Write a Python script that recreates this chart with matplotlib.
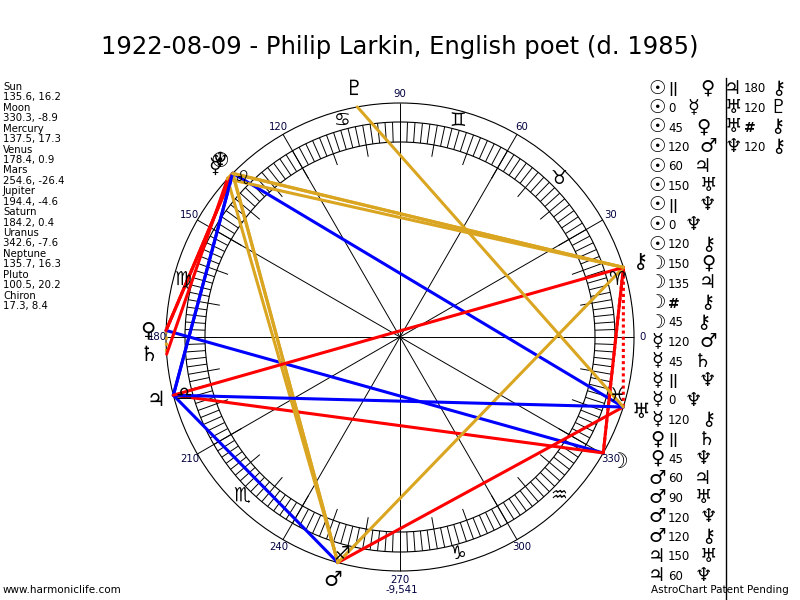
import numpy as np
import matplotlib
matplotlib.use("Agg")
import matplotlib.pyplot as plt
from matplotlib.patches import Circle
from matplotlib.collections import LineCollection

plt.rcParams['font.family'] = ['DejaVu Sans']

# chart data
title = "1922-08-09 - Philip Larkin, English poet (d. 1985)"
names = ['Sun', 'Moon', 'Mercury', 'Venus', 'Mars', 'Jupiter', 'Saturn',
         'Uranus', 'Neptune', 'Pluto', 'Chiron']
glyphs = ['☉', '☽', '☿', '♀', '♂', '♃', '♄', '♅', '♆', '♇', '⚷']
lon = [135.6, 330.3, 137.5, 178.4, 254.6, 194.4, 184.2, 342.6, 135.7, 100.5, 17.3]
decl = [16.2, -8.9, 17.3, 0.9, -26.4, -4.6, 0.4, -7.6, 16.3, 20.2, 8.4]
signs = ['♈', '♉', '♊', '♋', '♌', '♍', '♎', '♏', '♐', '♑', '♒', '♓']

asp_p1 = ['Sun', 'Sun', 'Sun', 'Sun', 'Sun', 'Sun', 'Sun', 'Sun', 'Sun',
          'Moon', 'Moon', 'Moon', 'Moon',
          'Mercury', 'Mercury', 'Mercury', 'Mercury', 'Mercury',
          'Venus', 'Venus', 'Mars', 'Mars', 'Mars', 'Mars', 'Jupiter', 'Jupiter',
          'Jupiter', 'Uranus', 'Uranus', 'Neptune']
asp_kind = ['P', '0', '45', '120', '60', '150', 'P', '0', '120',
            '150', '135', 'CP', '45',
            '120', '45', 'P', '0', '120',
            'P', '45', '60', '90', '120', '120', '150', '60',
            '180', '120', 'CP', '120']
asp_p2 = ['Venus', 'Mercury', 'Venus', 'Mars', 'Jupiter', 'Uranus', 'Neptune', 'Neptune', 'Chiron',
          'Venus', 'Jupiter', 'Chiron', 'Chiron',
          'Mars', 'Saturn', 'Neptune', 'Neptune', 'Chiron',
          'Saturn', 'Neptune', 'Jupiter', 'Uranus', 'Neptune', 'Chiron', 'Uranus', 'Neptune',
          'Chiron', 'Pluto', 'Chiron', 'Chiron']
deg_labels = list(range(0, 360, 30))
foot_value = "-9,541"

RED, BLUE, GOLD = '#ff0000', '#0000ff', '#daa520'
kind_color = {'0': GOLD, '120': GOLD, 'P': GOLD, '60': BLUE, '150': BLUE,
              '45': RED, '90': RED, '135': RED, '180': RED, 'CP': RED}
kind_text = {'P': '||', 'CP': '#'}

cx, cy = 400, 337
R_OUT, R_BAND1, R_BAND0, R_LONG = 234, 215, 195, 183


def xy(d, r):
    a = np.radians(d)
    return cx + r * np.cos(a), cy - r * np.sin(a)


fig = plt.figure(figsize=(8, 6), dpi=100)
ax = fig.add_axes([0, 0, 1, 1])
ax.set_xlim(0, 800)
ax.set_ylim(600, 0)
ax.axis('off')

# wheel
for r in (R_OUT, R_BAND1, R_BAND0):
    ax.add_patch(Circle((cx, cy), r, fill=False, lw=0.8, color='black'))

segs = []
for d in np.arange(0, 360, 2):
    segs.append([xy(d, R_BAND0), xy(d, R_BAND1)])
for d in np.arange(0, 360, 10):
    segs.append([xy(d, R_LONG), xy(d, R_BAND0)])
for d in deg_labels:
    segs.append([(cx, cy), xy(d, R_OUT)])
ax.add_collection(LineCollection(segs, colors='black', linewidths=0.7))

for d in deg_labels:
    x, y = xy(d, 243)
    ax.text(x, y, str(d), ha='center', va='center', fontsize=7.3, color='#000040')
ax.text(cx + 2, 590, foot_value, ha='center', va='center', fontsize=7.3, color='#000040')

for i, s in enumerate(signs):
    x, y = xy(i * 30 + 15, 224)
    ax.text(x, y, s, ha='center', va='center', fontsize=13.5, color='black')

# aspect lines: parallels first, then others
order = sorted(range(len(asp_kind)), key=lambda k: asp_kind[k] not in ('P', 'CP'))
for k in order:
    a = lon[names.index(asp_p1[k])]
    b = lon[names.index(asp_p2[k])]
    x1, y1 = xy(a, R_OUT)
    x2, y2 = xy(b, R_OUT)
    ls = (0, (1, 1)) if asp_kind[k] in ('P', 'CP') else '-'
    ax.plot([x1, x2], [y1, y2], color=kind_color[asp_kind[k]], lw=2.2, ls=ls,
            solid_capstyle='round')

for g, d in zip(glyphs, lon):
    x, y = xy(d, 252)
    ax.text(x, y, g, ha='center', va='center', fontsize=15, color='black')

# title and footers
ax.text(400, 47, title, ha='center', va='center', fontsize=17.5)
ax.text(3, 590, "www.harmoniclife.com", ha='left', va='center', fontsize=7.5)
ax.text(789, 590, "AstroChart Patent Pending", ha='right', va='center', fontsize=7.5)

# planet positions
for i, (n, d, dc) in enumerate(zip(names, lon, decl)):
    ax.text(3, 87 + 2 * i * 10.43, n, ha='left', va='center', fontsize=7.3)
    ax.text(3, 87 + (2 * i + 1) * 10.43, f"{d}, {dc}", ha='left', va='center', fontsize=7.3)

# aspect list
ax.plot([726, 726], [78, 600], color='black', lw=1)
g2_x = {'0': 693, '45': 703, '60': 703, '90': 703, 'P': 707, 'CP': 707}
for k in range(len(asp_kind)):
    col = 0 if k < 26 else 1
    row = k if k < 26 else k - 26
    y = 88 + row * 19.5
    x0 = 657 if col == 0 else 733
    kind = asp_kind[k]
    ax.text(x0, y, glyphs[names.index(asp_p1[k])], ha='center', va='center', fontsize=14)
    t = kind_text.get(kind, kind)
    ax.text(x0 + 11, y + 1, t, ha='left', va='center',
            fontsize=10 if kind in ('P', 'CP') else 8.5,
            fontweight='bold' if kind in ('P', 'CP') else 'normal')
    x2 = g2_x.get(kind, 708) + (0 if col == 0 else 70)
    ax.text(x2, y, glyphs[names.index(asp_p2[k])], ha='center', va='center', fontsize=14)

fig.savefig('out.png', dpi=100)
